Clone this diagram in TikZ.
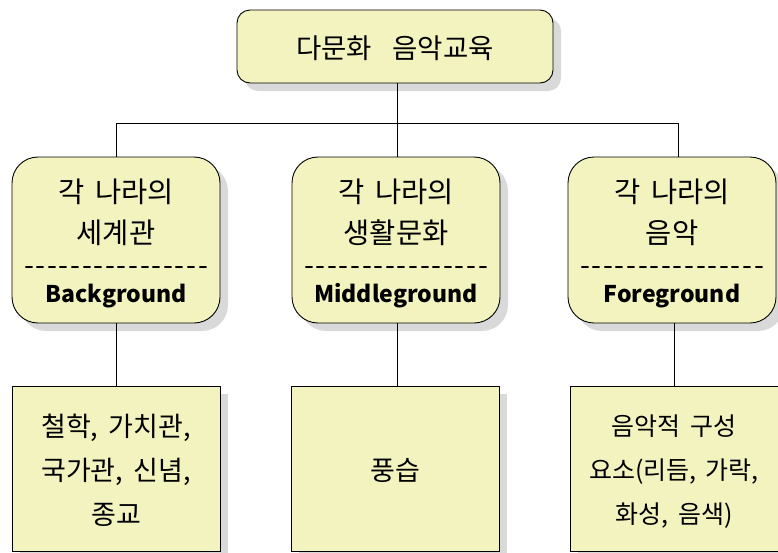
\documentclass[tikz,border=0pt]{standalone}
\usepackage{fontspec}
\setmainfont[WordSpace=1.7]{Noto Sans CJK KR}
\usetikzlibrary{shadows}
\definecolor{boxfill}{RGB}{243,243,192}
\definecolor{shadowgray}{RGB}{217,217,217}
\tikzset{
  box/.style={draw=black, line width=0.9pt, fill=boxfill,
    drop shadow={shadow xshift=8pt, shadow yshift=-8pt, fill=shadowgray, opacity=1},
    inner sep=0pt, align=center},
  topbox/.style={box, rounded corners=13pt, minimum width=316pt, minimum height=73pt,
    font=\fontsize{27.5}{30}\selectfont},
  midbox/.style={box, rounded corners=26pt, minimum width=208pt, minimum height=166pt,
    font=\fontsize{28.5}{41}\selectfont},
  botbox/.style={box, minimum width=208pt, minimum height=165pt,
    font=\fontsize{27}{44}\selectfont},
  link/.style={draw=black, line width=0.9pt}
}
\newcommand\dashrow{\hbox to 184pt{-\hfill-\hfill-\hfill-\hfill-\hfill-\hfill-\hfill-\hfill-\hfill-\hfill-\hfill-\hfill-\hfill-\hfill-\hfill-}}
\newcommand\engl[1]{{\fontsize{23}{23}\selectfont\bfseries #1}}
% push a node's text block down by half of #1
\newcommand\pushdown[2]{\raisebox{#1}{\vphantom{#2}}#2}
\begin{document}
\begin{tikzpicture}[x=1pt,y=-1pt]
  \useasboundingbox[fill=white] (0,0) rectangle (778,552);
  % top
  \node[topbox] (top) at (395,46.5) {\pushdown{3pt}{다문화\hspace{10pt} 음악교육}};
  % middle row
  \node[midbox] (m1) at (116,240) {\pushdown{6pt}{각 나라의}\\세계관\\[-9pt]\dashrow\\[-14pt]\engl{Background}};
  \node[midbox] (m2) at (396,240) {\pushdown{6pt}{각 나라의}\\생활문화\\[-9pt]\dashrow\\[-14pt]\engl{Middleground}};
  \node[midbox] (m3) at (672,240) {\pushdown{6pt}{각 나라의}\\음악\\[-9pt]\dashrow\\[-14pt]\engl{Foreground}};
  % bottom row
  \node[botbox] (b1) at (116,468.5) {\pushdown{4pt}{철학, 가치관,}\\국가관, 신념,\\종교};
  \node[botbox] (b2) at (395,468.5) {\pushdown{4pt}{풍습}};
  \node[botbox, font=\fontsize{25}{44}\selectfont] (b3) at (674,468.5) {\pushdown{7pt}{음악적 구성}\\요소(리듬, 가락,\\화성, 음색)};
  % connectors
  \coordinate (busL) at (116,123);
  \coordinate (busC) at (397,123);
  \coordinate (busR) at (678,123);
  \draw[link] (top.south -| busC) -- (busC);
  \draw[link] (busL) -- (busR);
  \draw[link] (busL) -- (busL |- m1.north);
  \draw[link] (busC) -- (busC |- m2.north);
  \draw[link] (busR) -- (busR |- m3.north);
  \draw[link] (m1.south) -- (b1.north -| m1.south);
  \draw[link] (m2.south -| busC) -- (b2.north -| busC);
  \draw[link] (m3.south -| b3.north) -- (b3.north);
\end{tikzpicture}
\end{document}
